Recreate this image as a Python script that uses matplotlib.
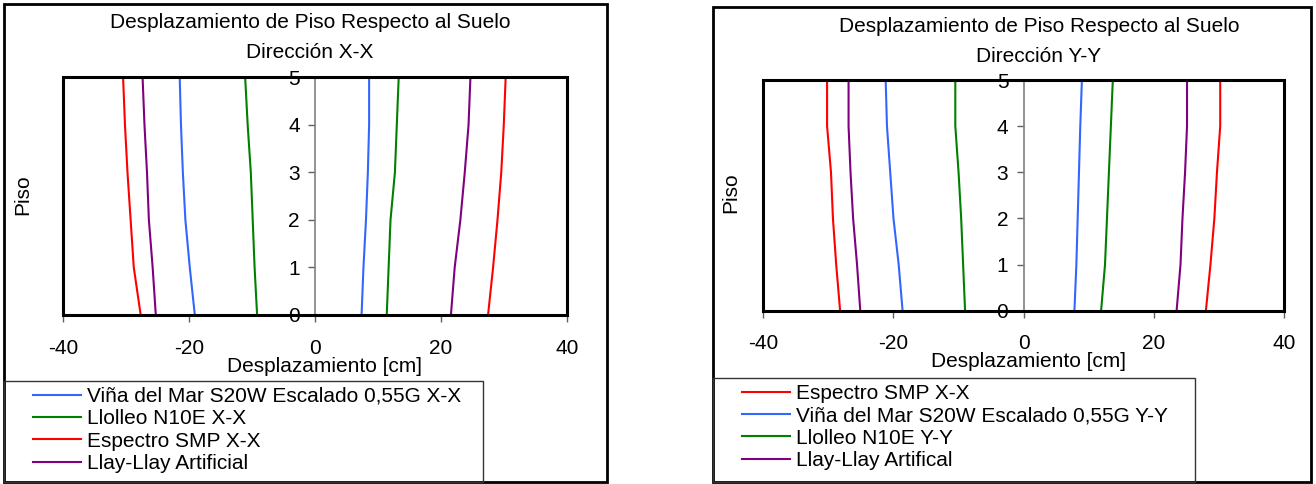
import matplotlib.pyplot as plt
from matplotlib.patches import Rectangle

plt.rcParams['font.family'] = ['Liberation Sans', 'DejaVu Sans']
plt.rcParams['axes.unicode_minus'] = False

W, H = 1316, 484
FS = 15

pisos = [0, 1, 2, 3, 4, 5]

# Direccion X-X: envolvente negativa y positiva de cada registro [cm]
vina_xx_neg = [-19.1, -19.9, -20.6, -21.0, -21.3, -21.5]
vina_xx_pos = [7.4, 7.7, 8.1, 8.4, 8.6, 8.6]
llolleo_xx_neg = [-9.2, -9.6, -9.9, -10.2, -10.7, -11.1]
llolleo_xx_pos = [11.4, 11.7, 12.0, 12.7, 13.0, 13.3]
smp_xx_neg = [-27.7, -28.8, -29.3, -29.8, -30.2, -30.5]
smp_xx_pos = [27.5, 28.3, 29.0, 29.6, 30.0, 30.3]
llay_xx_neg = [-25.3, -25.8, -26.4, -26.7, -27.1, -27.4]
llay_xx_pos = [21.6, 22.2, 23.1, 23.8, 24.4, 24.7]

# Direccion Y-Y
smp_yy_neg = [-28.2, -28.8, -29.3, -29.6, -30.2, -30.2]
smp_yy_pos = [28.0, 28.7, 29.3, 29.7, 30.2, 30.2]
vina_yy_neg = [-18.6, -19.2, -20.0, -20.5, -21.0, -21.2]
vina_yy_pos = [7.8, 8.1, 8.3, 8.5, 8.7, 8.95]
llolleo_yy_neg = [-9.0, -9.3, -9.6, -10.0, -10.5, -10.5]
llolleo_yy_pos = [11.9, 12.5, 12.8, 13.1, 13.4, 13.7]
llay_yy_neg = [-25.1, -25.6, -26.2, -26.6, -26.9, -26.9]
llay_yy_pos = [23.5, 24.1, 24.4, 24.8, 25.1, 25.1]

x_ticks = [-40, -20, 0, 20, 40]
y_ticks = [0, 1, 2, 3, 4, 5]

BLUE = '#3366ff'
GREEN = '#008000'
RED = '#ff0000'
PURPLE = '#800080'

series_xx = [
    ('Viña del Mar S20W Escalado 0,55G X-X', BLUE, vina_xx_neg, vina_xx_pos),
    ('Llolleo N10E X-X', GREEN, llolleo_xx_neg, llolleo_xx_pos),
    ('Espectro SMP X-X', RED, smp_xx_neg, smp_xx_pos),
    ('Llay-Llay Artificial', PURPLE, llay_xx_neg, llay_xx_pos),
]
series_yy = [
    ('Espectro SMP X-X', RED, smp_yy_neg, smp_yy_pos),
    ('Viña del Mar S20W Escalado 0,55G Y-Y', BLUE, vina_yy_neg, vina_yy_pos),
    ('Llolleo N10E Y-Y', GREEN, llolleo_yy_neg, llolleo_yy_pos),
    ('Llay-Llay Artifical', PURPLE, llay_yy_neg, llay_yy_pos),
]


def px_rect(x0, y0, x1, y1):
    # pixel box (top-left origin) -> figure fraction [left, bottom, width, height]
    return [x0 / W, (H - y1) / H, (x1 - x0) / W, (y1 - y0) / H]


def panel(fig, frame, ax_box, title_xy, subtitle, series, legend_box, ylab_xy, xlab_xy):
    fl, fb, fw, fh = px_rect(*frame)
    fig.patches.append(Rectangle((fl, fb), fw, fh, transform=fig.transFigure,
                                 fill=False, lw=2, ec='black'))

    ax = fig.add_axes(px_rect(*ax_box))
    handles = []
    for label, color, neg, pos in series:
        h, = ax.plot(neg, pisos, color=color, lw=1.5, label=label)
        ax.plot(pos, pisos, color=color, lw=1.5)
        handles.append(h)

    ax.set_xlim(-40, 40)
    ax.set_ylim(0, 5)
    ax.set_xticks(x_ticks)
    ax.set_yticks(y_ticks)
    for s in ['top', 'right', 'bottom']:
        ax.spines[s].set_visible(False)
    ax.spines['left'].set_position(('data', 0))
    ax.spines['left'].set_color('#808080')
    ax.spines['left'].set_linewidth(1.2)
    ax.add_patch(Rectangle((0, 0), 1, 1, transform=ax.transAxes, fill=False,
                           lw=2.2, ec='black', clip_on=False, zorder=5))
    ax.tick_params(axis='both', direction='out', length=5, width=1,
                   color='#606060', labelsize=FS)
    ax.tick_params(axis='x', pad=12)
    ax.tick_params(axis='y', pad=6)

    ax.set_ylabel('Piso', fontsize=FS)
    ax.yaxis.set_label_coords(*ylab_xy)
    ax.yaxis.label.set_va('center')
    ax.set_xlabel('Desplazamiento [cm]', fontsize=FS)
    ax.xaxis.set_label_coords(*xlab_xy)
    ax.xaxis.label.set_va('center')

    tx, ty = title_xy
    fig.text(tx / W, 1 - ty / H, 'Desplazamiento de Piso Respecto al Suelo',
             ha='center', va='center', fontsize=FS)
    fig.text(tx / W, 1 - (ty + 29) / H, subtitle,
             ha='center', va='center', fontsize=FS)

    lb = px_rect(*legend_box)
    fig.patches.append(Rectangle((lb[0], lb[1]), lb[2], lb[3],
                                 transform=fig.transFigure, fill=False,
                                 lw=1, ec='#333333'))
    fig.legend(handles=handles, loc='upper left',
               bbox_to_anchor=(lb[0] + 29 / W, lb[1] + lb[3] - 6 / H),
               frameon=False, fontsize=FS, handlelength=2.3,
               handletextpad=0.3, labelspacing=0.16, borderaxespad=0,
               borderpad=0)
    return ax


def main():
    fig = plt.figure(figsize=(W / 100, H / 100), dpi=100)
    panel(fig, (4, 4, 607, 482), (63.3, 77.3, 566.7, 315), (310, 23), 'Dirección X-X',
          series_xx, (4, 381, 483, 482), (-0.08, 0.505), (0.519, -0.215))
    panel(fig, (713, 7, 1311, 482), (763.3, 80, 1284, 310.7), (1039, 27), 'Dirección Y-Y',
          series_yy, (713, 378, 1195, 482), (-0.062, 0.51), (0.51, -0.22))
    fig.savefig('out.png', dpi=100)


if __name__ == '__main__':
    main()
